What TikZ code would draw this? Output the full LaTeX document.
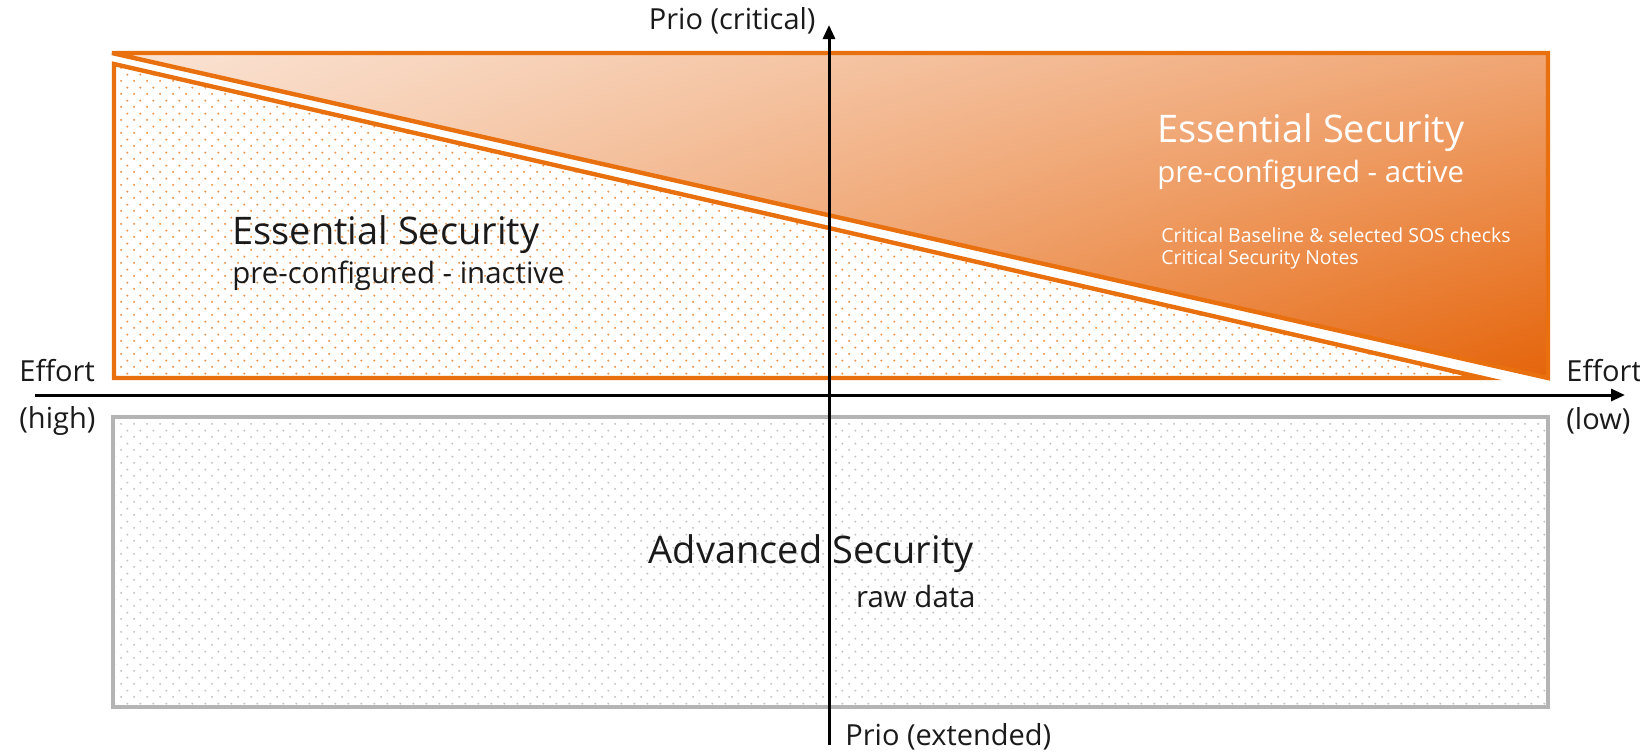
\documentclass[tikz,border=0pt]{standalone}
\usepackage{fontspec}
\setmainfont{Open Sans}
\usetikzlibrary{arrows.meta, patterns, shadings}
\definecolor{sosorange}{HTML}{E8700E}
\definecolor{sosdots}{HTML}{EC9148}
\definecolor{actlight}{HTML}{FAE4D5}
\definecolor{actmidtop}{HTML}{F0A674}
\definecolor{actmidlow}{HTML}{F5C6A6}
\definecolor{actdark}{HTML}{E5640A}
\definecolor{advgray}{HTML}{B4B4B4}
\definecolor{advdots}{HTML}{C4C4C4}
\definecolor{labeltext}{HTML}{1A1A1A}
\pgfdeclarepatternformonly{fleckdots}{\pgfpointorigin}{\pgfpoint{6.6pt}{6.6pt}}{\pgfpoint{6.6pt}{6.6pt}}{
  \pgfpathcircle{\pgfpoint{1.65pt}{1.65pt}}{0.58pt}
  \pgfpathcircle{\pgfpoint{4.95pt}{4.95pt}}{0.58pt}
  \pgfusepath{fill}}
\tikzstyle{area} = [draw=sosorange, line width=2.2pt, line join=miter]
\tikzstyle{axis} = [draw=black, line width=1.5pt, -{Triangle[length=7pt,width=6pt]}]
\tikzstyle{title} = [font=\fontsize{19}{23}\selectfont, anchor=west, inner sep=0pt]
\tikzstyle{subtitle} = [font=\fontsize{14.7}{17}\selectfont, anchor=west, inner sep=0pt]
\tikzstyle{note} = [font=\fontsize{9.7}{12}\selectfont, anchor=west, inner sep=0pt, text=white]
\tikzstyle{axislabel} = [font=\fontsize{14.5}{17}\selectfont, inner sep=0pt, text=labeltext]

\begin{document}
\begin{tikzpicture}[x=0.5pt, y=-0.5pt]
\useasboundingbox (0,0) rectangle (1640,752);

% corner points
\coordinate (act tl) at (112,53);
\coordinate (act tr) at (1548,53);
\coordinate (act br) at (1548,378);
\coordinate (inact tl) at (114,64);
\coordinate (inact bl) at (114,378);
\coordinate (inact br) at (1483,378);

% advanced security (grey box)
\path [pattern=fleckdots, pattern color=advdots] (113,417) rectangle (1548,707);
\draw [advgray, line width=2pt] (113,417) rectangle (1548,707);

% essential security - inactive
\path [pattern=fleckdots, pattern color=sosdots] (inact tl) -- (inact br) -- (inact bl) -- cycle;
\path [area] (inact tl) -- (inact br) -- (inact bl) -- cycle;

% essential security - active
\begin{scope}
\clip (act tl) -- (act tr) -- (act br) -- cycle;
\shade [upper left=actlight, upper right=actmidtop, lower left=actmidlow, lower right=actdark]
  (act tl) rectangle (act br);
\end{scope}
\path [area, miter limit=2] (act tl) -- (act tr) -- (act br) -- cycle;

% texts
\node [title, text=labeltext] (inact title) at (232,235) {Essential Security};
\node [subtitle, text=labeltext] (inact sub) at (232,276) {pre-configured - inactive};
\node [title, text=white] (act title) at (1157,133) {Essential Security};
\node [subtitle, text=white] (act sub) at (1157,175) {pre-configured - active};
\node [note] (act note1) at (1161,235) {Critical Baseline \& selected SOS checks};
\node [note] (act note2) at (1161,259) {Critical Security Notes};
\node [title, anchor=east, text=labeltext] (adv title) at (974,554) {Advanced Security};
\node [subtitle, anchor=east, text=labeltext] (adv sub) at (976,596) {raw data};

% axes
\coordinate (effort start) at (35,395);
\coordinate (effort end) at (1625,395);
\coordinate (prio start) at (829,745);
\coordinate (prio end) at (829,25);
\draw [axis] (effort start) -- (effort end);
\draw [axis] (prio start) -- (prio end);

\node [axislabel, anchor=west] (effort high) at (19,371) {Effort};
\node [axislabel, anchor=west] (effort high2) at (19,421) {(high)};
\node [axislabel, anchor=west] (effort low) at (1566,371) {Effort};
\node [axislabel, anchor=west] (effort low2) at (1566,421) {(low)};
\node [axislabel, anchor=east] (prio high) at (816,21) {Prio (critical)};
\node [axislabel, anchor=west] (prio low) at (845,737) {Prio (extended)};
\end{tikzpicture}
\end{document}
